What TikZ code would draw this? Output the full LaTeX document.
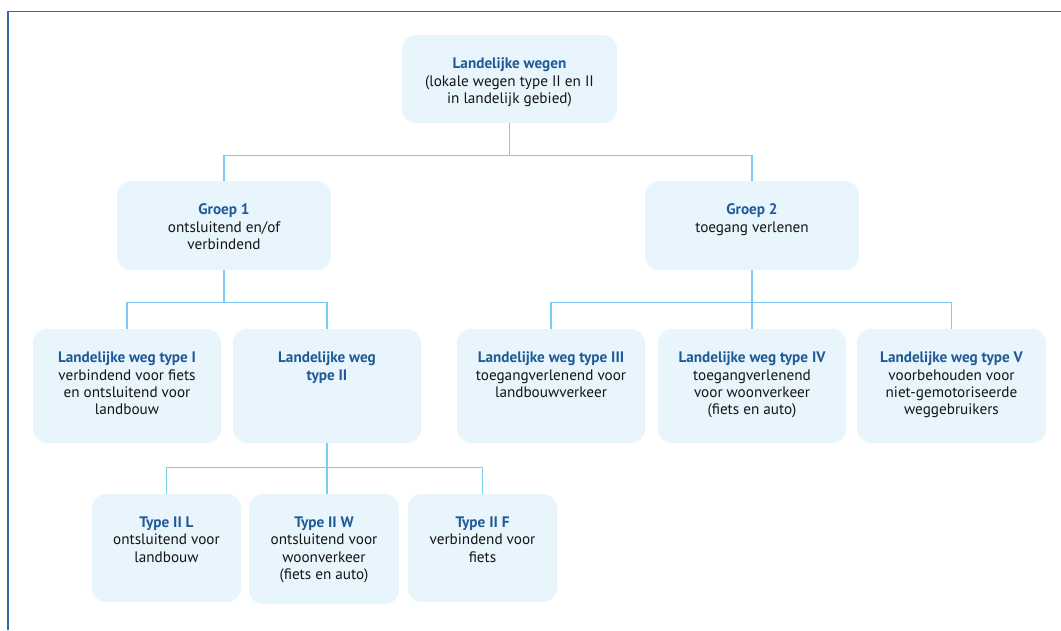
\documentclass[tikz,border=0pt]{standalone}
\usepackage{fontspec}
\setmainfont{PT Sans}
\usetikzlibrary{positioning}
\definecolor{wegblue}{HTML}{1F5A96}
\definecolor{wegfill}{HTML}{E9F5FD}
\definecolor{weglink}{HTML}{7ACCF3}
\definecolor{wegframe}{HTML}{3568A3}
\newcommand{\wegtext}[4]{\parbox[c][#2][t]{#1}{\centering\vspace*{23pt}{\bfseries\color{wegblue}#3}\\#4}}

\begin{document}
\begin{tikzpicture}[x=1pt, y=-1pt,
    weg/.style={fill=wegfill, rounded corners=14pt, inner sep=0pt,
                font=\fontsize{15.2}{17.2}\selectfont, text=black!92},
    link/.style={draw=weglink, line width=1.2pt},
]
    \useasboundingbox (0,0) rectangle (1061,630);
    \draw[wegframe, line width=1.3pt] (8,630) -- (8,11.5) -- (1061,11.5);

    % === top ===
    \node[weg] (top) at (509.5,79) {\wegtext{215pt}{88pt}{Landelijke wegen}{(lokale wegen type II en II\\in landelijk gebied)}};

    % === groepen ===
    \node[weg] (g1) at (224,225.5) {\wegtext{214pt}{89pt}{Groep 1}{ontsluitend en/of\\verbindend}};
    \node[weg] (g2) at (752,225.5) {\wegtext{214pt}{89pt}{Groep 2}{toegang verlenen}};

    % === types ===
    \node[weg] (t1) at (127,386) {\wegtext{188pt}{114pt}{Landelijke weg type I}{verbindend voor fiets\\en ontsluitend voor\\landbouw}};
    \node[weg] (t2) at (327,386) {\wegtext{188pt}{114pt}{Landelijke weg\\type II}{}};
    \node[weg] (t3) at (551,386) {\wegtext{188pt}{114pt}{Landelijke weg type III}{toegangverlenend voor\\landbouwverkeer}};
    \node[weg] (t4) at (752,386) {\wegtext{188pt}{114pt}{Landelijke weg type IV}{toegangverlenend\\voor woonverkeer\\(fiets en auto)}};
    \node[weg] (t5) at (951.5,386) {\wegtext{189pt}{114pt}{Landelijke weg type V}{voorbehouden voor\\niet-gemotoriseerde\\weggebruikers}};

    % === type II ===
    \node[weg] (t2l) at (166.5,548) {\wegtext{149pt}{108pt}{Type II L}{ontsluitend voor\\landbouw}};
    \node[weg] (t2w) at (324,549) {\wegtext{150pt}{110pt}{Type II W}{ontsluitend voor\\woonverkeer\\(fiets en auto)}};
    \node[weg] (t2f) at (482.5,548) {\wegtext{149pt}{108pt}{Type II F}{verbindend voor\\fiets}};

    % links
    \draw[link] (top.south) -- ++(0,32) -| (g1.north);
    \draw[link] (top.south) -- ++(0,32) -| (g2.north);
    \draw[link] (g1.south) -- ++(0,32) -| (t1.north);
    \draw[link] (g1.south) -- ++(0,32) -| (t2.north);
    \draw[link] (g2.south) -- ++(0,32) -| (t3.north);
    \draw[link] (g2.south) -- (t4.north);
    \draw[link] (g2.south) -- ++(0,32) -| (t5.north);
    \draw[link] (t2.south) -- ++(0,24) -| (t2l.north);
    \draw[link] (t2.south) -- (t2w.north -| t2.south);
    \draw[link] (t2.south) -- ++(0,24) -| (t2f.north);
\end{tikzpicture}
\end{document}
